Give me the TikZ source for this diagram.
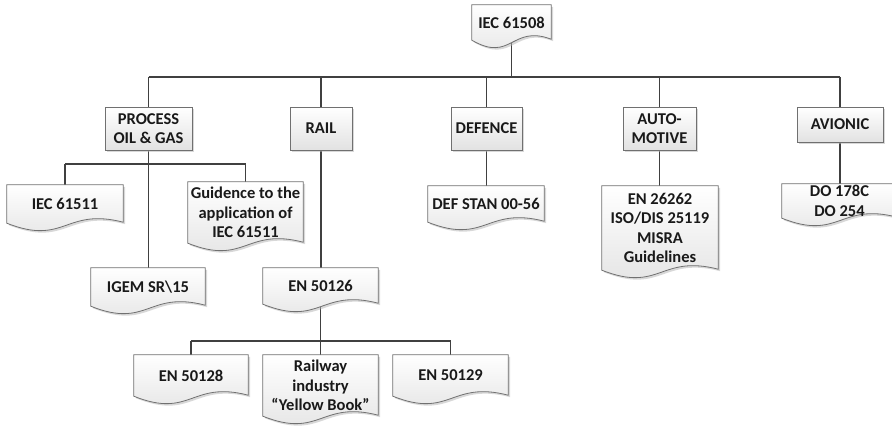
\documentclass[tikz,border=0pt]{standalone}
\usepackage{fontspec}
\setmainfont{Carlito}
\usetikzlibrary{calc,shadows}
\definecolor{boxline}{HTML}{707070}
\definecolor{boxfill}{HTML}{E2E2E2}
\definecolor{connc}{HTML}{404040}
\pgfdeclarelayer{conn}
\pgfdeclarelayer{bg}
\pgfsetlayers{conn,bg,main}
\tikzset{
  lbl/.style={font=\fontsize{16.5}{19.5}\selectfont\bfseries, align=center, inner sep=0pt, text=black!90},
  docn/.style={lbl, rectangle, draw=none},
  catn/.style={lbl, rectangle, draw=boxline, line width=0.8pt, top color=white, bottom color=boxfill,
     drop shadow={shadow xshift=2pt, shadow yshift=-2pt, fill=black!30, opacity=.5}},
  conn/.style={draw=connc, line width=1.3pt},
  docline/.style={draw=boxline, line width=0.8pt, top color=white, bottom color=boxfill},
  docshadow/.style={fill=black!30, opacity=.5, transform canvas={xshift=2pt,yshift=-2pt}}
}
% name, L, T, R, B, text
\newcommand\docnode[6]{\node[docn, minimum width={#4-#2}, minimum height={#5-#3}] (#1) at ({(#2+#4)/2},{(#3+#5)/2}) {#6};}
\newcommand\catnode[6]{\node[catn, minimum width={#4-#2}, minimum height={#5-#3}] (#1) at ({(#2+#4)/2},{(#3+#5)/2}) {#6};}
\newcommand\docshape[1]{%
  \fill[docshadow] (#1.north west) -- (#1.north east) -- ($(#1.south east)+(0,-1)$) .. controls ($(#1.south)+(0,-16)$) and ($(#1.south)+(0,23)$) .. (#1.south west) -- cycle;
  \path[docline] (#1.north west) -- (#1.north east) -- ($(#1.south east)+(0,-1)$) .. controls ($(#1.south)+(0,-16)$) and ($(#1.south)+(0,23)$) .. (#1.south west) -- cycle;}
\begin{document}
\begin{tikzpicture}[x=1pt,y=-1pt]
\useasboundingbox (0,0) rectangle (892,428);
\clip (0,0) rectangle (892,428);
% document boxes
\docnode{root}{472}{5}{551}{40}{IEC 61508}
\docnode{iecb}{7}{185}{123}{223}{IEC 61511}
\docnode{guid}{188}{182}{303}{243}{Guidence to the\\application of\\IEC 61511}
\docnode{igem}{91}{268}{205}{306}{IGEM SR\textbackslash 15}
\docnode{enf}{263}{268}{378}{304}{EN 50126}
\docnode{ena}{134}{355}{248}{396}{EN 50128}
\docnode{rwy}{263}{355}{378}{416}{Railway\\industry\\``Yellow Book''}
\docnode{enb}{393}{355}{508}{396}{EN 50129}
\docnode{dstan}{428}{186}{544}{222}{DEF STAN 00-56}
\docnode{autod}{602}{186}{718}{270}{EN 26262\\ISO/DIS 25119\\MISRA\\Guidelines}
\docnode{dod}{782}{184}{897}{218}{DO 178C\\DO 254}
% category boxes
\catnode{proc}{105}{107}{192}{150}{PROCESS\\OIL \& GAS}
\catnode{rail}{290}{107}{352}{150}{RAIL}
\catnode{def}{451}{107}{522}{150}{DEFENCE}
\catnode{auto}{623}{107}{696}{150}{AUTO-\\MOTIVE}
\catnode{avi}{797}{107}{883}{142}{AVIONIC}
\coordinate (bus) at (0,77);
\coordinate (pbus) at (0,164);
\coordinate (rbus) at (0,341);
\begin{pgfonlayer}{bg}
\foreach \n in {root,iecb,guid,igem,enf,ena,rwy,enb,dstan,autod,dod}{\docshape{\n}}
\end{pgfonlayer}
\begin{pgfonlayer}{conn}
\draw[conn] (root) -- (root |- bus);
\draw[conn] (proc |- bus) -- (avi |- bus);
\foreach \n in {proc,rail,def,auto,avi}{\draw[conn] (\n |- bus) -- (\n);}
\draw[conn] (proc) -- (proc |- igem.north);
\draw[conn] (iecb |- pbus) -- (guid |- pbus);
\draw[conn] (iecb |- pbus) -- (iecb);
\draw[conn] (guid |- pbus) -- (guid);
\draw[conn] (rail) -- (rail |- enf.north);
\draw[conn] (enf) -- (enf |- rbus);
\draw[conn] (ena |- rbus) -- (enb |- rbus);
\draw[conn] (ena |- rbus) -- (ena);
\draw[conn] (rwy |- rbus) -- (rwy.north);
\draw[conn] (enb |- rbus) -- (enb);
\draw[conn] (def) -- (def |- dstan.north);
\draw[conn] (auto) -- (auto |- autod.north);
\draw[conn] (avi) -- (avi |- dod.north);
\end{pgfonlayer}
\end{tikzpicture}
\end{document}
